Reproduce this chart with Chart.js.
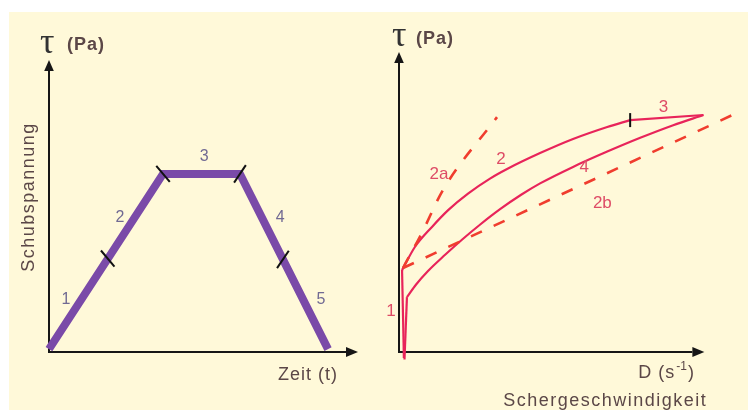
<!DOCTYPE html>
<html>
<head>
<meta charset="utf-8">
<script src="https://cdn.jsdelivr.net/npm/chart.js@4"></script>
<style>
  html, body { margin: 0; padding: 0; background: #fff; }
  #wrap { position: relative; width: 748px; height: 410px; overflow: hidden; background: #fff; }
  #panel { position: absolute; left: 9px; top: 12px; right: 0; bottom: 0; background: #fff9d9; }
  canvas { position: absolute; left: 0; top: 0; }
</style>
</head>
<body>
<div id="wrap">
  <div id="panel"></div>
  <canvas id="timeChart" width="748" height="410"></canvas>
  <canvas id="flowChart" width="748" height="410"></canvas>
</div>
<script>
// ---------- Belastungsprofil: Schubspannung über der Zeit ----------
const timeT   = [0, 3.69, 6.18, 9.03];
const timeTau = [0.1, 6.1, 6.1, 0.1];
// Grenzen zwischen den Phasen 1..5
const boundT   = [1.9, 3.69, 6.18, 7.57];
const boundTau = [3.2, 6.1, 6.1, 3.17];
const timePhaseNames = ['1', '2', '3', '4', '5'];

// ---------- Fließkurve: Schubspannung über der Schergeschwindigkeit ----------
const phase1D   = [0.16, 0.10];
const phase1Tau = [-0.2, 2.73];
const phase2D   = [0.10, 0.52, 1.08, 1.61, 2.26, 2.98, 3.54, 4.62, 5.70, 6.82, 7.57];
const phase2Tau = [2.73, 3.50, 4.17, 4.73, 5.28, 5.78, 6.10, 6.63, 7.10, 7.50, 7.73];
const phase3D   = [7.57, 9.97];
const phase3Tau = [7.73, 7.90];
const phase4D   = [0.26, 0.56, 0.95, 1.51, 2.07, 2.66, 3.31, 4.00, 4.62, 5.70, 6.82, 7.90, 8.98, 9.97];
const phase4Tau = [1.83, 2.25, 2.70, 3.24, 3.75, 4.25, 4.76, 5.24, 5.62, 6.17, 6.68, 7.14, 7.56, 7.90];
const phase5D   = [0.26, 0.18];
const phase5Tau = [1.83, -0.25];
const tangent2aD   = [0.13, 0.36, 0.75, 1.44, 3.21];
const tangent2aTau = [2.80, 3.23, 3.97, 5.40, 7.83];
const tangent2bD   = [0.13, 10.92];
const tangent2bTau = [2.80, 7.90];
const flowPhaseNames = ['1', '2', '2a', '2b', '3', '4'];

const pts = (xs, ys) => xs.map((v, i) => ({ x: v, y: ys[i] }));

const TEXT_BROWN = '#5b4747';
const SANS = '"Liberation Sans", Arial, sans-serif';
const SERIF = '"Liberation Serif", "Times New Roman", serif';

function drawArrow(ctx, x0, y0, x1, y1, head, half) {
  const a = Math.atan2(y1 - y0, x1 - x0);
  const bx = x1 - Math.cos(a) * head, by = y1 - Math.sin(a) * head;
  ctx.beginPath();
  ctx.moveTo(x0, y0);
  ctx.lineTo(bx, by);
  ctx.stroke();
  ctx.beginPath();
  ctx.moveTo(x1, y1);
  ctx.lineTo(bx + Math.sin(a) * half, by - Math.cos(a) * half);
  ctx.lineTo(bx - Math.sin(a) * half, by + Math.cos(a) * half);
  ctx.closePath();
  ctx.fill();
}

function drawText(ctx, str, x, y, font, color, align, spacing) {
  ctx.font = font;
  ctx.fillStyle = color;
  ctx.textAlign = align || 'left';
  ctx.textBaseline = 'alphabetic';
  if ('letterSpacing' in ctx) ctx.letterSpacing = (spacing || 0) + 'px';
  ctx.fillText(str, x, y);
  if ('letterSpacing' in ctx) ctx.letterSpacing = '0px';
}

// Achsen mit Pfeilen, Phasenmarken und Beschriftungen
const decor = {
  id: 'decor',
  beforeDatasetsDraw(chart, args, o) {
    const { ctx } = chart;
    const xs = chart.scales.x, ys = chart.scales.y;
    const x0 = xs.getPixelForValue(0), y0 = ys.getPixelForValue(0);
    ctx.save();
    ctx.strokeStyle = '#161616';
    ctx.fillStyle = '#161616';
    ctx.lineWidth = 2;
    drawArrow(ctx, x0, y0 + 1, x0, ys.getPixelForValue(o.yArrowTo), 11, 4.8);
    drawArrow(ctx, x0 - 1, y0, xs.getPixelForValue(o.xArrowTo), y0, 12, 5);
    ctx.restore();
  },
  afterDatasetsDraw(chart, args, o) {
    const { ctx } = chart;
    const xs = chart.scales.x, ys = chart.scales.y;
    const x0 = xs.getPixelForValue(0), yTop = ys.getPixelForValue(o.yArrowTo);
    const y0 = ys.getPixelForValue(0), xEnd = xs.getPixelForValue(o.xArrowTo);
    ctx.save();

    // Phasenmarken
    ctx.strokeStyle = '#111';
    ctx.lineWidth = 2;
    o.marks.forEach(m => {
      const px = xs.getPixelForValue(m.x), py = ys.getPixelForValue(m.y);
      const a = m.angle * Math.PI / 180, h = m.len / 2;
      ctx.beginPath();
      ctx.moveTo(px - Math.cos(a) * h, py - Math.sin(a) * h);
      ctx.lineTo(px + Math.cos(a) * h, py + Math.sin(a) * h);
      ctx.stroke();
    });

    // Phasennummern
    o.labels.forEach(l => {
      ctx.font = o.labelFont;
      ctx.fillStyle = o.labelColor;
      ctx.textAlign = 'center';
      ctx.textBaseline = 'middle';
      ctx.fillText(l.text, xs.getPixelForValue(l.x), ys.getPixelForValue(l.y));
    });

    // Achsentitel oben: τ (Pa)
    drawText(ctx, 'τ', x0 + o.tau.dx, yTop + o.tau.dy, '36px ' + SERIF, '#333');
    drawText(ctx, '(Pa)', x0 + o.pa.dx, yTop + o.pa.dy, 'bold 18px ' + SANS, TEXT_BROWN, 'left', 1);

    // Achsentitel rechts unten
    o.xTitles.forEach(t => {
      const font = '18px ' + SANS;
      if (t.sup) {
        let x = xEnd + t.dx;
        const y = y0 + t.dy;
        drawText(ctx, t.text, x, y, font, TEXT_BROWN, 'left', 1);
        ctx.font = font;
        x += ctx.measureText(t.text).width + t.text.length * 1 + 1;
        drawText(ctx, t.sup, x, y - 8, '12px ' + SANS, TEXT_BROWN, 'left', 0);
        ctx.font = '12px ' + SANS;
        x += ctx.measureText(t.sup).width + 1;
        drawText(ctx, t.after, x, y, font, TEXT_BROWN, 'left', 1);
      } else {
        drawText(ctx, t.text, xEnd + t.dx, y0 + t.dy, font, TEXT_BROWN, 'right', t.spacing || 1);
      }
    });

    // senkrechter Titel
    if (o.yTitle) {
      ctx.save();
      ctx.translate(o.yTitle.x, o.yTitle.y);
      ctx.rotate(-Math.PI / 2);
      ctx.font = '18px ' + SANS;
      ctx.fillStyle = TEXT_BROWN;
      ctx.textAlign = 'center';
      ctx.textBaseline = 'middle';
      if ('letterSpacing' in ctx) ctx.letterSpacing = '1.5px';
      ctx.fillText(o.yTitle.text, 0, 0);
      ctx.restore();
    }
    ctx.restore();
  }
};

const baseOptions = (pad, xMax) => ({
  responsive: false,
  animation: false,
  events: [],
  layout: { padding: pad },
  scales: {
    x: { type: 'linear', min: 0, max: xMax, display: false },
    y: { type: 'linear', min: 0, max: 10, display: false }
  },
  elements: { point: { radius: 0, hoverRadius: 0 } },
  plugins: { legend: { display: false }, tooltip: { enabled: false } }
});

// ---- linkes Diagramm ----
const timeOpts = baseOptions({ left: 49, top: 60, right: 390, bottom: 58 }, 10);
const timeMarkAngles = [50, 50, 124, 124];
timeOpts.plugins.decor = {
  yArrowTo: 10, xArrowTo: 10,
  marks: boundT.map((t, i) => ({ x: t, y: boundTau[i], angle: timeMarkAngles[i], len: 21 })),
  labels: [
    { text: timePhaseNames[0], x: 0.55, y: 1.78 },
    { text: timePhaseNames[1], x: 2.30, y: 4.62 },
    { text: timePhaseNames[2], x: 5.02, y: 6.68 },
    { text: timePhaseNames[3], x: 7.48, y: 4.62 },
    { text: timePhaseNames[4], x: 8.80, y: 1.78 }
  ],
  labelFont: '16px ' + SANS,
  labelColor: '#716a93',
  tau: { dx: -9, dy: -7 },
  pa: { dx: 18, dy: -10 },
  xTitles: [{ text: 'Zeit (t)', dx: -20, dy: 28 }],
  yTitle: { text: 'Schubspannung', x: 29, y: 197 }
};

new Chart(document.getElementById('timeChart'), {
  type: 'scatter',
  data: {
    datasets: [{
      data: pts(timeT, timeTau),
      showLine: true,
      borderColor: '#7a4aa8',
      borderWidth: 8,
      borderJoinStyle: 'miter',
      tension: 0,
      clip: false
    }]
  },
  options: timeOpts,
  plugins: [decor]
});

// ---- rechtes Diagramm ----
const RED = '#e8245a';
const DASH_RED = '#f03d2e';
const flowOpts = baseOptions({ left: 399, top: 52, right: 7, bottom: 58 }, 11.2);
flowOpts.plugins.decor = {
  yArrowTo: 10, xArrowTo: 10,
  marks: [{ x: phase3D[0], y: phase3Tau[0], angle: 90, len: 14 }],
  labels: [
    { text: flowPhaseNames[0], x: -0.26, y: 1.37 },
    { text: flowPhaseNames[1], x: 3.34, y: 6.43 },
    { text: flowPhaseNames[2], x: 1.31, y: 5.93 },
    { text: flowPhaseNames[3], x: 6.66, y: 4.97 },
    { text: flowPhaseNames[4], x: 8.66, y: 8.17 },
    { text: flowPhaseNames[5], x: 6.07, y: 6.17 }
  ],
  labelFont: '17px ' + SANS,
  labelColor: '#de4c66',
  tau: { dx: -7, dy: -6 },
  pa: { dx: 17, dy: -8 },
  xTitles: [
    { text: 'D (s', sup: '-1', after: ')', dx: -66, dy: 26 },
    { text: 'Schergeschwindigkeit', dx: 3, dy: 54, spacing: 1.5 }
  ]
};

const solid = (data, mono) => ({
  data, showLine: true, borderColor: RED, borderWidth: 2.2, clip: false,
  tension: 0, cubicInterpolationMode: mono ? 'monotone' : 'default'
});
const dashed = (data) => ({
  data, showLine: true, borderColor: DASH_RED, borderWidth: 2.6, clip: false,
  borderDash: [12, 13], tension: 0, cubicInterpolationMode: 'monotone'
});

new Chart(document.getElementById('flowChart'), {
  type: 'scatter',
  data: {
    datasets: [
      dashed(pts(tangent2aD, tangent2aTau)),
      dashed(pts(tangent2bD, tangent2bTau)),
      solid(pts(phase1D, phase1Tau), false),
      solid(pts(phase2D, phase2Tau), true),
      solid(pts(phase3D, phase3Tau), false),
      solid(pts(phase4D, phase4Tau), true),
      solid(pts(phase5D, phase5Tau), false)
    ]
  },
  options: flowOpts,
  plugins: [decor]
});
</script>
</body>
</html>
